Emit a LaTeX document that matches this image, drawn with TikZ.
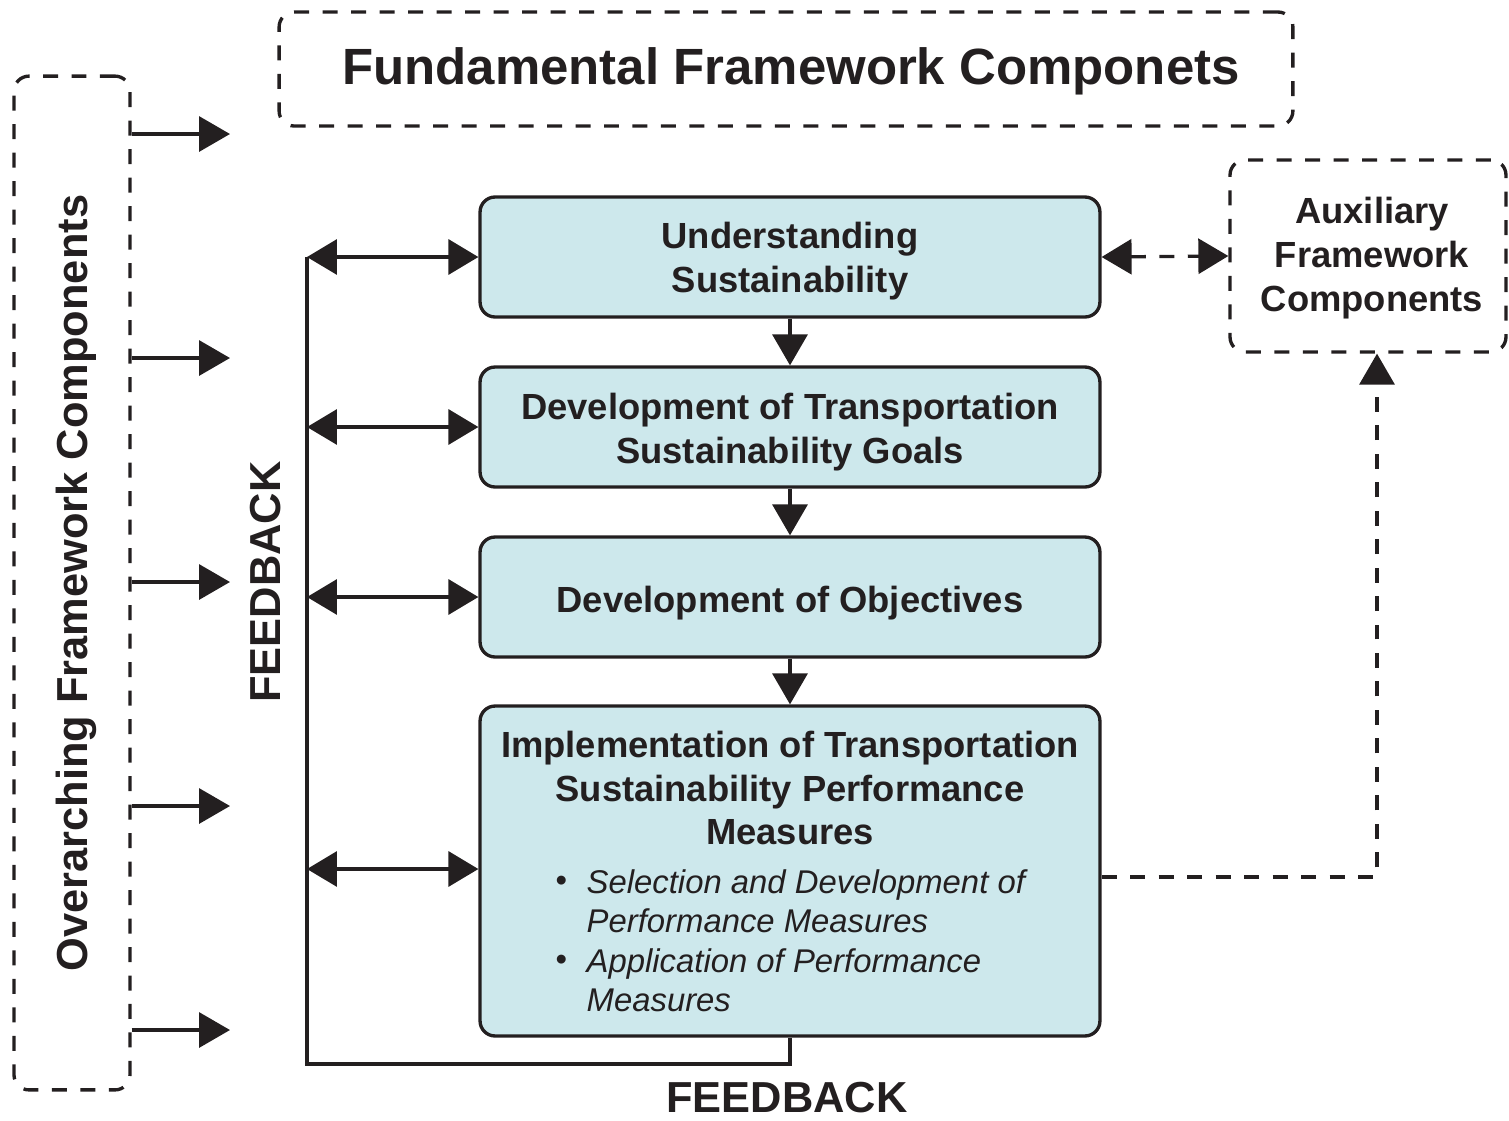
\documentclass[tikz,border=0pt]{standalone}
\usepackage{fontspec}
\setmainfont{Liberation Sans}
\usetikzlibrary{arrows.meta,calc}
\definecolor{ink}{RGB}{35,31,32}
\definecolor{boxfill}{RGB}{205,232,236}
\newcommand{\bxfont}{\fontsize{20.7}{24.9}\selectfont\bfseries}
\newcommand{\ttlfont}{\fontsize{29}{34}\selectfont\bfseries}
\newcommand{\sidefont}{\fontsize{24.7}{29}\selectfont\bfseries}
\newcommand{\bulfont}{\fontsize{18.7}{22.2}\selectfont\itshape}
\begin{document}
\begin{tikzpicture}[x=0.02cm,y=-0.02cm, line width=1.9pt, color=ink,
  mainbox/.style={draw=ink, fill=boxfill, rounded corners=0.3cm, minimum width=12.4cm, minimum height=2.4cm, inner sep=0pt},
  dashbox/.style={draw=ink, dash pattern=on 0.3cm off 0.27cm, rounded corners=0.3cm, inner sep=0pt},
  plain/.style={inner sep=0pt, text=ink},
  boxtext/.style={plain, font=\bxfont, align=center},
  bigtip/.style={-{Triangle[length=0.62cm,width=0.7cm]}},
  dbltip/.style={{Triangle[length=0.6cm,width=0.7cm]}-{Triangle[length=0.6cm,width=0.7cm]}},
  dashln/.style={dash pattern=on 0.3cm off 0.27cm}
]
\useasboundingbox (0,0) rectangle (1509,1120);

% dashed frames
\node[dashbox, minimum width=2.32cm, minimum height=20.28cm] (ov) at (72,583) {};
\node[plain, rotate=90, font=\sidefont] (ovt) at (76,583) {Overarching Framework Components};
\node[dashbox, minimum width=20.28cm, minimum height=2.28cm] (title) at (786,69) {};
\node[plain, font=\ttlfont] (titlet) at (791,71) {Fundamental Framework Componets};
\node[dashbox, minimum width=5.52cm, minimum height=3.84cm] (aux) at (1368,256) {};
\node[boxtext] (auxt) at (1372,258) {Auxiliary\\Framework\\Components};

% main boxes
\node[mainbox] (b1) at (790,257) {};
\node[boxtext] (b1t) at (790,261) {Understanding\\Sustainability};
\node[mainbox] (b2) at (790,427) {};
\node[boxtext] (b2t) at (790,432) {Development of Transportation\\Sustainability Goals};
\node[mainbox] (b3) at (790,597) {};
\node[boxtext] (b3t) at (790,603) {Development of Objectives};
\node[mainbox, minimum height=6.6cm] (b4) at (790,871) {};
\node[boxtext] (b4t) at (790,788) {Implementation of Transportation\\Sustainability Performance\\Measures};
\node[plain, font=\bulfont] (bu1) at (561,884) {\textbullet};
\node[plain, font=\bulfont, align=left, anchor=west] (s1) at (585,901) {Selection and Development of\\Performance Measures};
\node[plain, font=\bulfont] (bu2) at (561,963) {\textbullet};
\node[plain, font=\bulfont, align=left, anchor=west] (s2) at (585,980) {Application of Performance\\Measures};

% feedback labels
\node[plain, rotate=90, font=\sidefont] (fbv) at (266,582) {FEEDBACK};
\node[plain, font=\sidefont] (fbh) at (787,1098) {FEEDBACK};

% overarching arrows
\foreach \yy [count=\i] in {134,358,582,806,1030} {
  \coordinate (a\i) at (230,\yy);
  \draw[bigtip] (ov.east |- a\i) -- (a\i);
}

% down arrows
\draw[bigtip] (b1.south) -- (b2.north);
\draw[bigtip] (b2.south) -- (b3.north);
\draw[bigtip] (b3.south) -- (b4.north);

% feedback loop
\coordinate (fbt) at (307,257);
\coordinate (fbb) at (307,1064);
\draw (b4.south) |- (fbb) -- (fbt);
\draw[dbltip] (fbt) -- (b1.west);
\draw[dbltip] (fbt |- b2.west) -- (b2.west);
\draw[dbltip] (fbt |- b3.west) -- (b3.west);
\draw[dbltip] ($(fbt |- b4.west)+(0,-2)$) -- ($(b4.west)+(0,-2)$);

% auxiliary connections
\draw[dashln, dbltip] (b1.east) -- (aux.west);
\draw[dashln, bigtip] ($(b4.east)+(0,6)$) -| ($(aux.south)+(9,0)$);
\end{tikzpicture}
\end{document}
